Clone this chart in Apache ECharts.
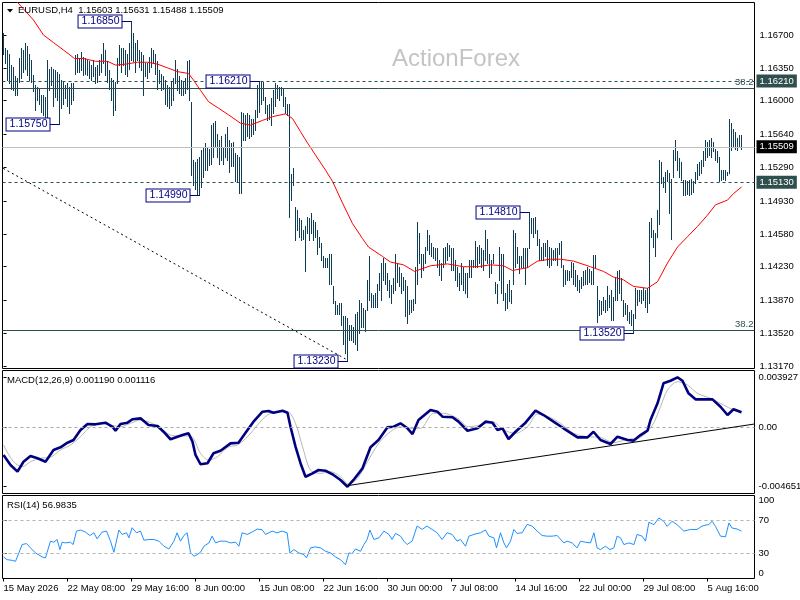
<!DOCTYPE html>
<html>
<head>
<meta charset="utf-8">
<title>EURUSD H4</title>
<script src="https://cdn.jsdelivr.net/npm/echarts@6.0.0/dist/echarts.min.js"></script>
<style>
html, body { margin: 0; padding: 0; background: #fff; }
#chart { width: 800px; height: 600px; }
</style>
</head>
<body>
<div id="chart"></div>
<script>
var FONT = '"Liberation Sans", Arial, sans-serif';

// time axis: one label every 32 H4 bars
var tickLabels = ['15 May 2026', '22 May 08:00', '29 May 16:00', '8 Jun 00:00', '15 Jun 08:00', '22 Jun 16:00',
                  '30 Jun 00:00', '7 Jul 08:00', '14 Jul 16:00', '22 Jul 00:00', '29 Jul 08:00', '5 Aug 16:00'];
var tickPos = [0, 32, 64, 96, 128, 160, 192, 224, 256, 288, 320, 352];

var priceTicks = [1.16700, 1.16350, 1.16000, 1.15640, 1.15290, 1.14930, 1.14580, 1.14230, 1.13870, 1.13520, 1.13170];
var lastBar = [1.15603, 1.15631, 1.15488, 1.15509];

// horizontal levels: marked prices (right tags) and the two 38.2 retracements
var tagLevels = [1.16210, 1.15509, 1.15130];
var fibLevels = [1.16132, 1.13552];

// bar highs / lows, one per H4 bar
var highs = [
  1.1672,1.1656,1.1654,1.1650,1.1638,1.1636,1.1626,1.1624,1.1645,1.1656,
  1.1654,1.1661,1.1658,1.1650,1.1643,1.1627,1.1617,1.1615,1.1613,1.1606,
  1.1606,1.1604,1.1643,1.1634,1.1636,1.1634,1.1633,1.1631,1.1629,1.1622,
  1.1620,1.1617,1.1619,1.1615,1.1619,1.1619,1.1649,1.1650,1.1645,1.1652,
  1.1647,1.1645,1.1643,1.1642,1.1638,1.1643,1.1636,1.1638,1.1643,1.1650,
  1.1661,1.1654,1.1642,1.1633,1.1624,1.1622,1.1620,1.1645,1.1659,1.1656,
  1.1656,1.1654,1.1650,1.1661,1.1685,1.1672,1.1661,1.1665,1.1654,1.1652,
  1.1649,1.1640,1.1640,1.1647,1.1656,1.1654,1.1650,1.1642,1.1633,1.1629,
  1.1626,1.1622,1.1617,1.1615,1.1620,1.1624,1.1643,1.1634,1.1626,1.1622,
  1.1620,1.1624,1.1642,1.1643,1.1599,1.1537,1.1535,1.1538,1.1540,1.1547,
  1.1551,1.1555,1.1551,1.1549,1.1574,1.1576,1.1578,1.1565,1.1558,1.1562,
  1.1551,1.1565,1.1572,1.1558,1.1555,1.1556,1.1544,1.1542,1.1540,1.1588,
  1.1587,1.1585,1.1587,1.1585,1.1581,1.1581,1.1590,1.1617,1.1621,1.1620,
  1.1620,1.1604,1.1595,1.1597,1.1603,1.1611,1.1619,1.1617,1.1615,1.1615,
  1.1613,1.1604,1.1597,1.1597,1.1522,1.1528,1.1487,1.1483,1.1475,1.1473,
  1.1462,1.1466,1.1476,1.1475,1.1480,1.1473,1.1471,1.1462,1.1455,1.1448,
  1.1434,1.1432,1.1432,1.1437,1.1437,1.1402,1.1386,1.1382,1.1384,1.1384,
  1.1370,1.1370,1.1368,1.1361,1.1361,1.1359,1.1373,1.1375,1.1388,1.1384,
  1.1379,1.1377,1.1409,1.1434,1.1395,1.1393,1.1395,1.1405,1.1416,1.1427,
  1.1432,1.1427,1.1416,1.1409,1.1404,1.1411,1.1437,1.1427,1.1423,1.1416,
  1.1412,1.1409,1.1402,1.1388,1.1388,1.1389,1.1423,1.1471,1.1459,1.1437,
  1.1437,1.1444,1.1462,1.1457,1.1448,1.1444,1.1443,1.1443,1.1430,1.1427,
  1.1443,1.1444,1.1448,1.1446,1.1443,1.1443,1.1430,1.1423,1.1416,1.1427,
  1.1423,1.1416,1.1416,1.1430,1.1430,1.1430,1.1450,1.1444,1.1446,1.1443,
  1.1441,1.1462,1.1453,1.1437,1.1430,1.1437,1.1407,1.1405,1.1444,1.1437,
  1.1437,1.1395,1.1405,1.1409,1.1398,1.1462,1.1459,1.1444,1.1434,1.1434,
  1.1443,1.1443,1.1443,1.1481,1.1475,1.1475,1.1476,1.1462,1.1453,1.1444,
  1.1448,1.1448,1.1451,1.1444,1.1443,1.1441,1.1443,1.1443,1.1448,1.1450,
  1.1425,1.1420,1.1420,1.1418,1.1428,1.1427,1.1420,1.1414,1.1409,1.1412,
  1.1418,1.1420,1.1423,1.1421,1.1418,1.1436,1.1436,1.1402,1.1388,1.1386,
  1.1391,1.1388,1.1402,1.1393,1.1398,1.1391,1.1412,1.1418,1.1420,1.1411,
  1.1388,1.1384,1.1382,1.1375,1.1377,1.1373,1.1400,1.1398,1.1398,1.1398,
  1.1400,1.1398,1.1400,1.1471,1.1475,1.1462,1.1459,1.1483,1.1537,1.1535,
  1.1519,1.1524,1.1526,1.1523,1.1517,1.1547,1.1558,1.1546,1.1539,1.1535,
  1.1515,1.1515,1.1514,1.1515,1.1517,1.1514,1.1524,1.1533,1.1535,1.1537,
  1.1546,1.1558,1.1556,1.1558,1.1560,1.1556,1.1549,1.1546,1.1540,1.1526,
  1.1526,1.1526,1.1524,1.1581,1.1576,1.1570,1.1567,1.1560,1.1563,1.15631
];
var lows = [
  1.1650,1.1640,1.1622,1.1619,1.1613,1.1611,1.1606,1.1606,1.1620,1.1624,
  1.1631,1.1634,1.1627,1.1622,1.1620,1.1610,1.1590,1.1601,1.1597,1.1588,
  1.1585,1.1583,1.1581,1.1611,1.1617,1.1594,1.1604,1.1601,1.1575,1.1592,
  1.1597,1.1603,1.1594,1.1587,1.1597,1.1601,1.1629,1.1631,1.1631,1.1633,
  1.1627,1.1629,1.1627,1.1624,1.1622,1.1626,1.1619,1.1620,1.1627,1.1631,
  1.1640,1.1627,1.1620,1.1613,1.1601,1.1585,1.1590,1.1619,1.1638,1.1631,
  1.1638,1.1629,1.1626,1.1634,1.1643,1.1642,1.1631,1.1643,1.1636,1.1633,
  1.1606,1.1626,1.1624,1.1631,1.1636,1.1640,1.1629,1.1613,1.1619,1.1611,
  1.1613,1.1597,1.1594,1.1592,1.1595,1.1601,1.1619,1.1611,1.1608,1.1606,
  1.1606,1.1608,1.1613,1.1601,1.1521,1.1510,1.1506,1.1501,1.1499,1.1508,
  1.1519,1.1526,1.1526,1.1531,1.1533,1.1540,1.1551,1.1540,1.1533,1.1537,
  1.1533,1.1540,1.1537,1.1524,1.1530,1.1530,1.1514,1.1514,1.1502,1.1502,
  1.1558,1.1558,1.1562,1.1560,1.1562,1.1565,1.1569,1.1583,1.1588,1.1597,
  1.1601,1.1587,1.1579,1.1581,1.1574,1.1587,1.1594,1.1603,1.1601,1.1606,
  1.1594,1.1587,1.1585,1.1476,1.1494,1.1510,1.1451,1.1462,1.1455,1.1451,
  1.1453,1.1418,1.1459,1.1451,1.1459,1.1451,1.1455,1.1437,1.1444,1.1430,
  1.1423,1.1423,1.1423,1.1405,1.1405,1.1384,1.1373,1.1373,1.1373,1.1361,
  1.1341,1.1331,1.1323,1.1345,1.1345,1.1343,1.1341,1.1334,1.1352,1.1359,
  1.1359,1.1354,1.1377,1.1388,1.1380,1.1380,1.1380,1.1380,1.1398,1.1388,
  1.1409,1.1405,1.1398,1.1391,1.1384,1.1395,1.1398,1.1407,1.1402,1.1395,
  1.1398,1.1370,1.1363,1.1373,1.1375,1.1377,1.1384,1.1405,1.1427,1.1412,
  1.1420,1.1427,1.1441,1.1437,1.1434,1.1432,1.1430,1.1423,1.1414,1.1409,
  1.1423,1.1427,1.1430,1.1434,1.1420,1.1420,1.1409,1.1402,1.1398,1.1405,
  1.1398,1.1395,1.1391,1.1412,1.1412,1.1423,1.1423,1.1423,1.1427,1.1423,
  1.1420,1.1430,1.1427,1.1412,1.1416,1.1427,1.1395,1.1384,1.1409,1.1395,
  1.1388,1.1377,1.1379,1.1386,1.1384,1.1405,1.1423,1.1427,1.1416,1.1423,
  1.1423,1.1405,1.1423,1.1443,1.1459,1.1455,1.1459,1.1446,1.1430,1.1430,
  1.1430,1.1434,1.1425,1.1423,1.1425,1.1430,1.1430,1.1425,1.1437,1.1423,
  1.1402,1.1405,1.1409,1.1409,1.1412,1.1405,1.1402,1.1398,1.1396,1.1400,
  1.1404,1.1405,1.1405,1.1407,1.1405,1.1405,1.1423,1.1364,1.1372,1.1373,
  1.1377,1.1375,1.1377,1.1380,1.1366,1.1366,1.1388,1.1388,1.1395,1.1388,
  1.1370,1.1373,1.1366,1.1363,1.1361,1.1352,1.1368,1.1382,1.1386,1.1384,
  1.1388,1.1380,1.1375,1.1384,1.1455,1.1444,1.1434,1.1455,1.1469,1.1512,
  1.1508,1.1503,1.1514,1.1480,1.1453,1.1519,1.1537,1.1526,1.1519,1.1515,
  1.1499,1.1499,1.1501,1.1499,1.1501,1.1503,1.1512,1.1517,1.1521,1.1523,
  1.1530,1.1537,1.1540,1.1542,1.1540,1.1546,1.1537,1.1535,1.1514,1.1515,
  1.1517,1.1515,1.1521,1.1523,1.1547,1.1551,1.1549,1.1547,1.1551,1.15488
];

// red moving average, read at bar positions
var maIdx = [0,6.5,15,20,25,30,35.5,40,46,52, 56,61,67,72,77,82,87,92.5,95,98.5,
  102.5,107.5,112.5,118.5,123.5,129.5,134.5,141,144.5,148.5, 152,156,161,164.5,169.5,174.5,179.5,182.5,189.5,193.5,
  200,205.5,213.5,222,230,237,243.5,250,254.5,262, 267,273.5,278.5,285,293.5,300,305,310,315,322,
  327,332,337,342,347,352,356,362,365,369];
var maVal = [1.1720,1.1706,1.1686,1.1670,1.1662,1.1654,1.1645,1.1645,1.1642,1.1642,
  1.1638,1.1639,1.1641,1.1641,1.1639,1.1635,1.1631,1.1629,1.1622,1.1611,
  1.1599,1.1592,1.1585,1.1576,1.1574,1.1579,1.1583,1.1586,1.1581,1.1567,
  1.1555,1.1542,1.1526,1.1514,1.1491,1.1469,1.1453,1.1444,1.1434,1.1428,
  1.1425,1.1418,1.1424,1.1426,1.1423,1.1423,1.1425,1.1424,1.1419,1.1422,
  1.1429,1.1431,1.1431,1.1429,1.1423,1.1418,1.1412,1.1409,1.1402,1.1400,
  1.1407,1.1427,1.1444,1.1455,1.1466,1.1478,1.1489,1.1494,1.1501,1.1508];

// swing highs / lows with price tags
var swingIdx = [64, 28, 128, 98, 172, 263, 315];
var swingVal = [1.16850, 1.15750, 1.16210, 1.14990, 1.13230, 1.14810, 1.13520];

// MACD(12,26,9)
var macdIdx = [0,3.5,7,10,13.5,17,21,25,28.5,32, 35,38.5,42,46,51,54.5,56,58.5,62,64.5,
  68.5,72.5,77,80,83.5,87,89.5,92.5,94.5,96, 98.5,102,105,108.5,113.5,117.5,122,125,129.5,132.5,
  135,139.5,142,143.5,146,148.5,151,154.5,157.5,161, 165,168.5,172,175,179.5,183.5,187.5,192,195,198.5,
  202,204.5,207.5,213.5,217,219.5,224.5,227.5,232,237, 241,244.5,247,249.5,252.5,256,261,266,270,275,
  280,287,292,295,298.5,303.5,307,312,315,318.5, 322,323.5,327,330,333.5,337,339.5,342.5,346,351,
  354.5,358.5,362,365,369];
var macdVal = [-0.00216,-0.00295,-0.00347,-0.00269,-0.00224,-0.00242,-0.00269,-0.00177,-0.00156,-0.00120,
  -0.00099,-0.00020,0.00027,0.00024,0.00037,0.00005,-0.00026,0.00027,0.00037,0.00064,
  0.00071,0.00019,0.00011,-0.00034,-0.00093,-0.00073,-0.00060,-0.00046,-0.00112,-0.00216,
  -0.00289,-0.00281,-0.00203,-0.00183,-0.00125,-0.00120,-0.00020,0.00045,0.00123,0.00129,
  0.00115,0.00131,0.00115,0.00005,-0.00151,-0.00281,-0.00387,-0.00360,-0.00334,-0.00340,
  -0.00373,-0.00412,-0.004651,-0.00412,-0.00321,-0.00156,-0.00099,0.00001,0.00005,0.00032,
  -0.00007,-0.00052,0.00058,0.00136,0.00123,0.00084,0.00079,0.00045,-0.00026,-0.00007,
  0.00045,0.00037,-0.00020,-0.00007,-0.00091,-0.00034,0.00037,0.00131,0.00097,0.00045,
  -0.00007,-0.00078,-0.00078,-0.00034,-0.00099,-0.00130,-0.00073,-0.00099,-0.00104,-0.00060,
  -0.00026,0.00058,0.00189,0.00346,0.00366,0.003927,0.00366,0.00267,0.00220,0.00220,
  0.00220,0.00162,0.00097,0.00142,0.001190];
var sigIdx = [0,5,9.5,13.5,18.5,23.5,28.5,33.5,38.5,43.5, 48.5,53.5,58.5,63.5,68.5,73.5,78.5,83.5,88.5,93.5,
  98.5,102.5,107,112,117,122,127,132,137,142, 146,149.5,153.5,158.5,163.5,168.5,172.5,177,182,187,
  192,198.5,203.5,208.5,215,220,227,232.5,238.5,244.5, 250,256,262,267,272.5,278.5,285,292,298.5,305,
  312,318.5,324.5,328.5,332,337,342,347,353.5,360, 365,369];
var sigVal = [-0.00138,-0.00269,-0.00308,-0.00269,-0.00242,-0.00234,-0.00177,-0.00138,-0.00073,0.00005,
  0.00032,0.00019,0.00005,0.00032,0.00058,0.00037,-0.00007,-0.00060,-0.00067,-0.00067,
  -0.00203,-0.00256,-0.00230,-0.00156,-0.00138,-0.00073,0.00019,0.00097,0.00123,0.00123,
  0.00032,-0.00151,-0.00334,-0.00360,-0.00347,-0.00387,-0.00444,-0.00399,-0.00269,-0.00138,
  -0.00052,0.00005,-0.00007,-0.00007,0.00111,0.00111,0.00071,0.00005,0.00019,0.00045,
  -0.00020,-0.00046,0.00005,0.00105,0.00084,0.00032,-0.00046,-0.00073,-0.00078,-0.00120,
  -0.00093,-0.00078,0.00019,0.00162,0.00293,0.00358,0.00332,0.00267,0.00228,0.00176,
  0.00136,0.001116];

// RSI(14)
var rsiIdx = [0,1.8,4.3,6,7.7,9.3,11.5,13.5,16,19.3, 21,21.8,23.5,25.2,26.8,28.2,29.3,31,33.5,34.8,
  36.5,38.5,41,43.2,45.2,46.8,49.3,51.5,53.5,55.2, 57.7,59.3,61.5,62.7,64.3,66.5,68.5,70.2,72.7,75.2,
  77.7,80.2,82.7,85.2,86.8,88.5,90.2,91.8,93.5,95.2, 96.8,98.5,100.2,102.7,104.3,106,108.5,111,113.5,116,
  117.7,119.3,121.8,124.3,126.8,129.3,131,132.7,134.3,136.8, 139.3,141.8,143.2,145.2,147.7,150.2,151.5,153.5,156,158.5,
  161,163.5,166,168.5,171,172.7,174.3,176,178.5,180.2, 181.8,183.2,185.2,187.7,190.2,192.7,194.3,196,198.5,200.2,
  201.8,204.3,206.8,209.3,211.8,214.3,216.8,219.3,221.8,224.3, 226.8,228.5,231,232.7,235.2,238.5,241,242.7,245.2,246.5,
  248.5,250.2,251.5,253.5,255.2,256.8,259.3,261.8,264.3,266.8, 269.3,271.8,274.3,276.8,280.2,281.8,284.3,286.8,288.5,291,
  293.5,295.2,296.8,298.5,301,303.2,305.2,306.8,308.5,310.2, 312.7,315.2,316.8,319.3,321,322.7,325.2,327.7,330.2,331.8,
  334.3,336.8,340.2,343.5,346.8,349.3,352.7,354.3,356,358.5, 361,362.7,364.3,366.8,369];
var rsiVal = [26,22.7,21.9,20.7,30.8,40.9,42.1,36.9,30.8,26, 24.8,31.6,45,43.7,47,34.8,43.7,42.9,43.7,40.9,
  57.1,58.4,55.9,51.8,55.1,47.8,55.9,57.1,45,31.6, 58.4,53.1,55.1,49,61.2,55.1,57.1,46.2,47,47,
  45,38.9,35.6,45,55.1,45,51.8,55.1,31.6,26.8, 28.8,31.6,38.9,42.9,51,42.9,45,45,42.9,43.7,
  38.9,55.1,53.1,55.9,59.6,58.8,53.1,55.1,57.1,55.1, 57.1,55.1,30.8,34.8,30.8,28.8,24.8,36.9,38.1,36.9,
  32.8,30.8,26,22.7,16.6,30.8,30,35.6,32.8,40.9, 47,58.4,47,49,57.1,53.1,47,54.3,51,45,
  40.9,45,63.2,59.1,63.2,59.1,55.1,47,55.1,53.1, 45,47,38.9,51,53.1,55.1,58.4,51,49,36.9,
  55.1,42.9,36.9,45,59.1,54.3,55.1,65.2,63.2,57.1, 51.8,51,51,51.8,42.9,45,42.9,36.9,45,43.7,
  42.9,55.1,36.9,34.8,38.9,34.8,36.9,51,49,40.9, 42.9,40.9,53.1,51,45,67.7,64.8,72.9,68.9,62.8,
  68.9,64.8,57.1,59.1,59.1,63.2,65.2,68.9,62.8,51, 50.2,66.9,60.8,59.6,56.9835];

var X0 = -0.5, X1 = 375.5;

function zip(xs, ys) {
  return xs.map(function (x, i) { return [x, ys[i]]; });
}

var barData = highs.map(function (h, i) { return [i, h, lows[i]]; });
var swingData = zip(swingIdx, swingVal);
var SLATE = '#2f4f4f';

var renderBar = function (params, api) {
  var top = api.coord([api.value(0), api.value(1)]);
  var bot = api.coord([api.value(0), api.value(2)]);
  var x = Math.floor(top[0]) + 0.5;
  return {
    type: 'line',
    shape: { x1: x, y1: Math.round(top[1]), x2: x, y2: Math.round(bot[1]) + 1 },
    style: { stroke: '#0f3d55', lineWidth: 1 }
  };
};

var renderSwing = function (params, api) {
  var p = api.coord([api.value(0), api.value(1)]);
  var x = Math.floor(p[0]) + 0.5;
  var y = Math.round(p[1]) + 0.5;
  return {
    type: 'group',
    children: [
      { type: 'line', shape: { x1: x - 10, y1: y, x2: x, y2: y }, style: { stroke: '#000080', lineWidth: 1 } },
      { type: 'text', x: x - 10, y: y,
        style: { text: api.value(1).toFixed(5), fill: '#000080', font: '10.5px ' + FONT,
                 align: 'right', verticalAlign: 'middle', backgroundColor: '#ffffff',
                 borderColor: '#000080', borderWidth: 1, padding: [1, 2, 0, 3] } }
    ]
  };
};

// a horizontal line across the whole panel, given as a pair of data points
function hLine(v, lineStyle, label) {
  return [ { coord: [X0, v], lineStyle: lineStyle, label: label }, { coord: [X1, v] } ];
}

function priceTag(v, bg) {
  return { show: true, position: 'end', distance: 2, formatter: v.toFixed(5),
           backgroundColor: bg, color: '#fff', padding: [2, 3, 1, 3], fontSize: 9.5, fontFamily: FONT };
}
var fibTag = { show: true, position: 'insideEndTop', distance: 1, formatter: '38.2',
               color: SLATE, fontSize: 9.5, fontFamily: FONT };
var dashed = { type: [3, 3], color: SLATE, width: 1 };
var solid = { type: 'solid', color: SLATE, width: 1 };

var axisFont = { color: '#000', fontSize: 9.5, fontFamily: FONT };

var grids = [
  { left: 2.5, top: 2.5, width: 752, height: 366 },
  { left: 2.5, top: 370.5, width: 752, height: 123 },
  { left: 2.5, top: 495.5, width: 752, height: 83 }
].map(function (g) {
  g.show = true; g.borderColor = '#000'; g.borderWidth = 1;
  g.containLabel = false; g.outerBoundsMode = 'none';
  return g;
});

var xAxes = [0, 1, 2].map(function (g) {
  var ax = {
    type: 'value', gridIndex: g, min: X0, max: X1,
    splitLine: { show: false }, axisLine: { show: false },
    axisTick: { show: false }, axisLabel: { show: false }
  };
  if (g === 2) {
    ax.axisTick = { show: true, customValues: tickPos, length: 3, lineStyle: { color: '#000' } };
    ax.axisLabel = Object.assign({ show: true, customValues: tickPos, align: 'left', margin: 5,
      formatter: function (v) { return tickLabels[Math.round(v / 32)]; } }, axisFont);
  }
  return ax;
});

var yAxes = [
  { type: 'value', gridIndex: 0, position: 'right', min: 1.13145, max: 1.17047,
    splitLine: { show: false }, axisLine: { show: false },
    axisTick: { show: true, customValues: priceTicks, length: 3, lineStyle: { color: '#000' } },
    axisLabel: Object.assign({ customValues: priceTicks, margin: 5,
      formatter: function (v) { return v.toFixed(5); } }, axisFont) },
  { type: 'value', gridIndex: 1, position: 'right', min: -0.005183, max: 0.004461,
    splitLine: { show: false }, axisLine: { show: false },
    axisTick: { show: true, customValues: [-0.004651, 0, 0.003927], length: 3, lineStyle: { color: '#000' } },
    axisLabel: Object.assign({ customValues: [-0.004651, 0, 0.003927], margin: 4,
      formatter: function (v) { return v === 0 ? '0.00' : v.toFixed(6); } }, axisFont) },
  { type: 'value', gridIndex: 2, position: 'right', min: 0, max: 100,
    splitLine: { show: false }, axisLine: { show: false },
    axisTick: { show: true, customValues: [0, 30, 70, 100], length: 3, lineStyle: { color: '#000' } },
    axisLabel: Object.assign({ customValues: [0, 30, 70, 100], margin: 4,
      verticalAlignMinLabel: 'bottom', verticalAlignMaxLabel: 'top' }, axisFont) }
];

var series = [
  { name: 'bars', type: 'custom', xAxisIndex: 0, yAxisIndex: 0, renderItem: renderBar,
    data: barData, encode: { x: 0, y: [1, 2] }, clip: true, z: 2, silent: true },
  { name: 'MA', type: 'line', xAxisIndex: 0, yAxisIndex: 0, data: zip(maIdx, maVal),
    showSymbol: false, symbol: 'none', clip: true, z: 3, silent: true,
    lineStyle: { color: '#ff0000', width: 1 },
    markLine: {
      silent: true, symbol: 'none', animation: false,
      data: [
        hLine(tagLevels[0], dashed, priceTag(tagLevels[0], SLATE)),
        hLine(fibLevels[0], solid, fibTag),
        hLine(tagLevels[1], { type: 'solid', color: '#c0c0c0', width: 1 }, priceTag(tagLevels[1], '#000')),
        hLine(tagLevels[2], dashed, priceTag(tagLevels[2], SLATE)),
        hLine(fibLevels[1], solid, fibTag),
        [ { coord: [-0.15, 1.15279], lineStyle: { type: [2, 3], color: '#000', width: 1 }, label: { show: false } },
          { coord: [171, 1.13247] } ]
      ]
    } },
  { name: 'swings', type: 'custom', xAxisIndex: 0, yAxisIndex: 0, renderItem: renderSwing,
    data: swingData, encode: { x: 0, y: 1 }, clip: false, z: 6, silent: true },
  { name: 'MACD', type: 'line', xAxisIndex: 1, yAxisIndex: 1, data: zip(macdIdx, macdVal),
    showSymbol: false, symbol: 'none', z: 4, silent: true,
    lineStyle: { color: '#000080', width: 2.6 },
    markLine: {
      silent: true, symbol: 'none', animation: false, label: { show: false },
      data: [
        hLine(0, { type: [3, 3], color: '#a8a8a8', width: 1 }, { show: false }),
        [ { coord: [171.85, -0.004571], lineStyle: { type: 'solid', color: '#000', width: 1 } },
          { coord: [X1, 0.000267] } ]
      ]
    } },
  { name: 'Signal', type: 'line', xAxisIndex: 1, yAxisIndex: 1, data: zip(sigIdx, sigVal),
    showSymbol: false, symbol: 'none', smooth: 0.3, z: 3, silent: true,
    lineStyle: { color: '#b8b8b8', width: 1 } },
  { name: 'RSI', type: 'line', xAxisIndex: 2, yAxisIndex: 2, data: zip(rsiIdx, rsiVal),
    showSymbol: false, symbol: 'none', z: 3, silent: true,
    lineStyle: { color: '#1e90ff', width: 1 },
    markLine: {
      silent: true, symbol: 'none', animation: false, label: { show: false },
      data: [
        hLine(70, { type: [3, 3], color: '#b4b4b4', width: 1 }, { show: false }),
        hLine(30, { type: [3, 3], color: '#b4b4b4', width: 1 }, { show: false })
      ]
    } }
];

var headText = 'EURUSD,H4  ' + lastBar.map(function (v) { return v.toFixed(5); }).join(' ');
var macdText = 'MACD(12,26,9) ' + macdVal[macdVal.length - 1].toFixed(6) + ' ' + sigVal[sigVal.length - 1].toFixed(6);
var rsiText = 'RSI(14) ' + rsiVal[rsiVal.length - 1].toFixed(4);

var graphic = [
  { type: 'text', x: 392, y: 59, z: 1, silent: true,
    style: { text: 'ActionForex', font: '24px ' + FONT, fill: '#c4c4c4', verticalAlign: 'middle' } },
  { type: 'polygon', z: 10, silent: true, shape: { points: [[7, 9], [13, 9], [10, 12.5]] }, style: { fill: '#000' } },
  { type: 'text', x: 18, y: 10.5, z: 10, silent: true,
    style: { text: headText, font: '9.5px ' + FONT, fill: '#000', verticalAlign: 'middle' } },
  { type: 'text', x: 7, y: 380, z: 10, silent: true,
    style: { text: macdText, font: '9.5px ' + FONT, fill: '#000', verticalAlign: 'middle' } },
  { type: 'text', x: 7, y: 505, z: 10, silent: true,
    style: { text: rsiText, font: '9.5px ' + FONT, fill: '#000', verticalAlign: 'middle' } }
];

var chart = echarts.init(document.getElementById('chart'), null, { renderer: 'canvas' });
chart.setOption({
  animation: false,
  backgroundColor: '#ffffff',
  textStyle: { fontFamily: FONT },
  grid: grids,
  xAxis: xAxes,
  yAxis: yAxes,
  series: series,
  graphic: graphic
});
</script>
</body>
</html>
